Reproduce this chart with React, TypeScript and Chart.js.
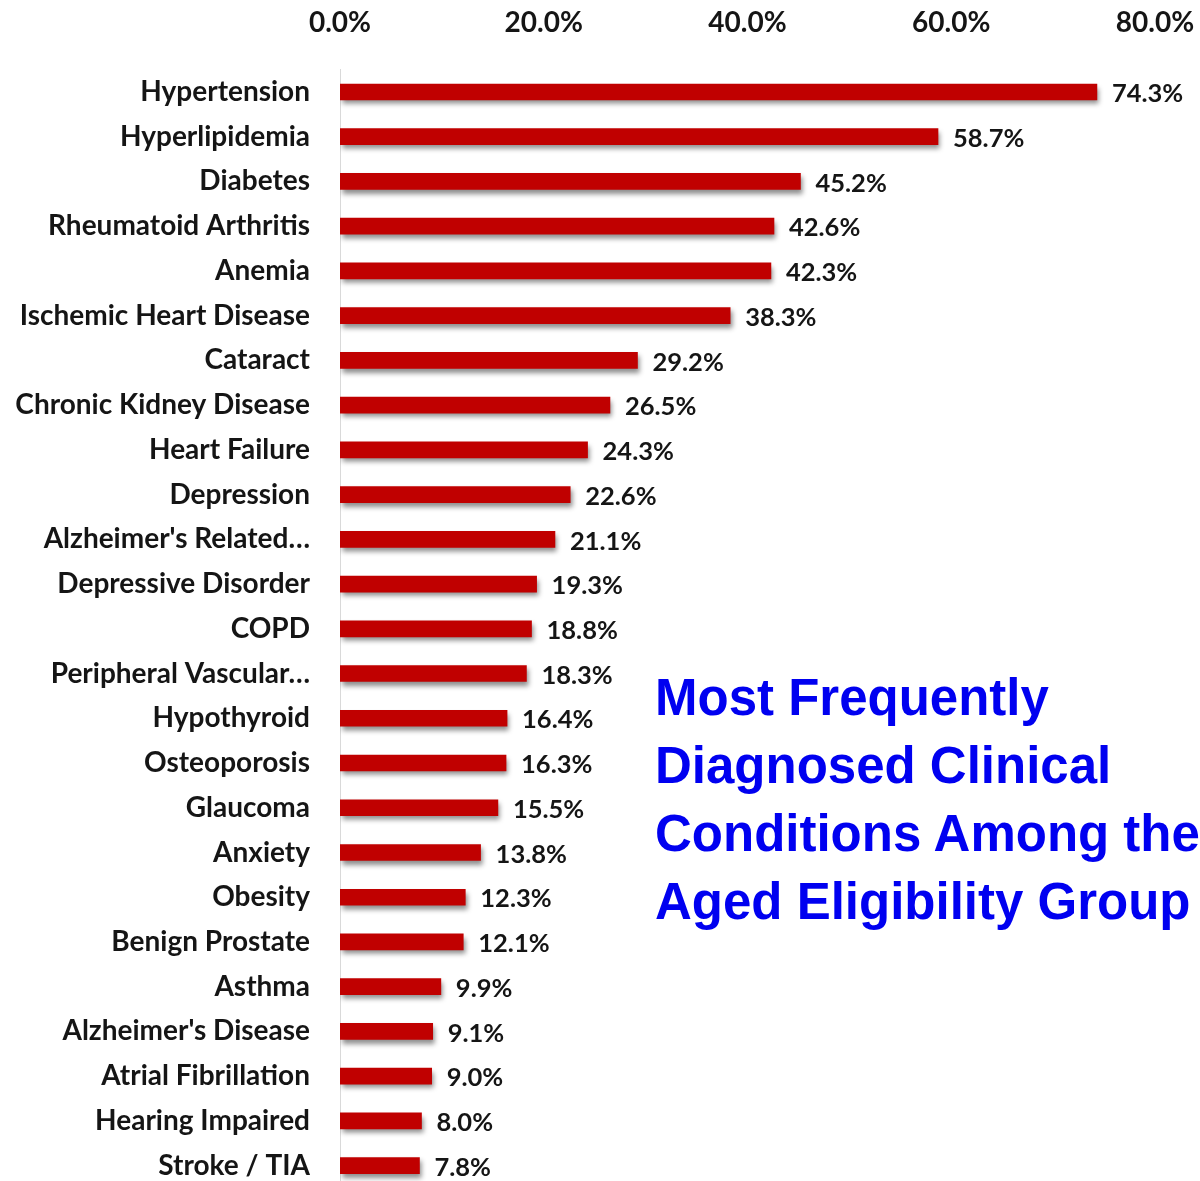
import React, { useEffect, useRef } from "react";
import { Chart, registerables } from "chart.js";

Chart.register(...registerables);

const categories: string[] = [
  "Hypertension",
  "Hyperlipidemia",
  "Diabetes",
  "Rheumatoid Arthritis",
  "Anemia",
  "Ischemic Heart Disease",
  "Cataract",
  "Chronic Kidney Disease",
  "Heart Failure",
  "Depression",
  "Alzheimer's Related…",
  "Depressive Disorder",
  "COPD",
  "Peripheral Vascular…",
  "Hypothyroid",
  "Osteoporosis",
  "Glaucoma",
  "Anxiety",
  "Obesity",
  "Benign Prostate",
  "Asthma",
  "Alzheimer's Disease",
  "Atrial Fibrillation",
  "Hearing Impaired",
  "Stroke / TIA",
];

const values: number[] = [
  74.3, 58.7, 45.2, 42.6, 42.3, 38.3, 29.2, 26.5, 24.3, 22.6, 21.1, 19.3, 18.8,
  18.3, 16.4, 16.3, 15.5, 13.8, 12.3, 12.1, 9.9, 9.1, 9.0, 8.0, 7.8,
];

const xTicks: number[] = [0, 20, 40, 60, 80];

const titleLines: string[] = [
  "Most Frequently",
  "Diagnosed Clinical",
  "Conditions Among the",
  "Aged Eligibility Group",
];

const LABEL_FONT = "Lato, 'Open Sans', sans-serif";
const TEXT_COLOR = "#151515";

const shadowPlugin = {
  id: "barShadow",
  beforeDatasetsDraw(chart: any) {
    const ctx = chart.ctx;
    ctx.save();
    ctx.shadowColor = "rgba(0,0,0,0.45)";
    ctx.shadowBlur = 5;
    ctx.shadowOffsetX = 2;
    ctx.shadowOffsetY = 4;
  },
  afterDatasetsDraw(chart: any) {
    chart.ctx.restore();
  },
};

const valueLabelPlugin = {
  id: "valueLabels",
  afterDatasetsDraw(chart: any) {
    const ctx = chart.ctx;
    const meta = chart.getDatasetMeta(0);
    ctx.save();
    ctx.font = `bold 25.5px ${LABEL_FONT}`;
    ctx.fillStyle = TEXT_COLOR;
    ctx.textAlign = "left";
    ctx.textBaseline = "middle";
    meta.data.forEach((bar: any, i: number) => {
      const v = chart.data.datasets[0].data[i] as number;
      ctx.fillText(v.toFixed(1) + "%", bar.x + 15, bar.y + 2);
    });
    ctx.restore();
  },
};

function zeroPadding(scale: any) {
  scale.paddingTop = 0;
  scale.paddingBottom = 0;
  scale.paddingLeft = 0;
  scale.paddingRight = 0;
}

export default function App() {
  const canvasRef = useRef<HTMLCanvasElement | null>(null);

  useEffect(() => {
    if (!canvasRef.current) return;
    const chart = new Chart(canvasRef.current, {
      type: "bar",
      data: {
        labels: categories,
        datasets: [
          {
            data: values,
            backgroundColor: "#C00000",
            borderWidth: 0,
            barThickness: 16,
          },
        ],
      },
      plugins: [shadowPlugin, valueLabelPlugin],
      options: {
        indexAxis: "y",
        responsive: false,
        animation: false,
        layout: { padding: { left: 0, right: 45, top: 0, bottom: 0 } },
        plugins: {
          legend: { display: false },
          tooltip: { enabled: false },
          title: { display: false },
        },
        scales: {
          x: {
            position: "top",
            min: 0,
            max: 80,
            afterBuildTicks(scale: any) {
              scale.ticks = xTicks.map((v) => ({ value: v }));
            },
            afterFit(scale: any) {
              scale.height = 69.6;
              zeroPadding(scale);
            },
            grid: { display: false, drawTicks: false },
            border: { display: false },
            ticks: {
              padding: 30,
              color: TEXT_COLOR,
              font: { family: LABEL_FONT, size: 28, weight: "bold" },
              callback: (v: any) => Number(v).toFixed(1) + "%",
              maxRotation: 0,
            },
          },
          y: {
            afterFit(scale: any) {
              scale.width = 340;
              zeroPadding(scale);
            },
            grid: { display: false, drawTicks: false },
            border: { display: true, color: "#d9d9d9", width: 1 },
            ticks: {
              padding: 30,
              color: TEXT_COLOR,
              font: { family: LABEL_FONT, size: 28, weight: "bold" },
              autoSkip: false,
            },
          },
        },
      },
    });
    return () => chart.destroy();
  }, []);

  return (
    <div
      style={{
        position: "fixed",
        left: 0,
        top: 0,
        width: 1200,
        height: 1188,
        background: "#ffffff",
        overflow: "hidden",
      }}
    >
      <canvas ref={canvasRef} width={1200} height={1188} style={{ display: "block" }} />
      <div
        style={{
          position: "absolute",
          left: 655,
          top: 664,
          fontFamily: "'Liberation Sans', Arial, sans-serif",
          fontWeight: "bold",
          fontSize: 51,
          lineHeight: "68px",
          color: "#0000F0",
          whiteSpace: "nowrap",
        }}
      >
        {titleLines.map((l) => (
          <div key={l}>{l}</div>
        ))}
      </div>
    </div>
  );
}
